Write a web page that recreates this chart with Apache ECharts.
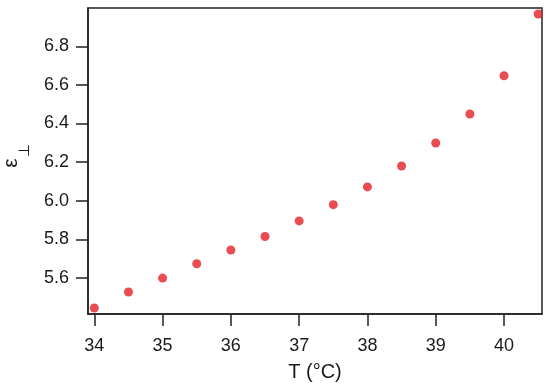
<!DOCTYPE html>
<html>
<head>
<meta charset="utf-8">
<script src="https://cdn.jsdelivr.net/npm/echarts@6/dist/echarts.min.js"></script>
<style>html,body{margin:0;padding:0;background:#fff}#c{width:550px;height:385px}</style>
</head>
<body>
<div id="c"></div>
<script>
var temperatures = [34, 34.5, 35, 35.5, 36, 36.5, 37, 37.5, 38, 38.5, 39, 39.5, 40, 40.5];
var epsPerp = [5.445, 5.528, 5.600, 5.674, 5.745, 5.815, 5.896, 5.980, 6.072, 6.180, 6.299, 6.449, 6.647, 6.967];
var xTicks = [34, 35, 36, 37, 38, 39, 40];
var yTicks = [5.6, 5.8, 6.0, 6.2, 6.4, 6.6, 6.8];

var data = temperatures.map(function (t, i) { return [t, epsPerp[i]]; });
var font = 'Liberation Sans, Arial, Helvetica, sans-serif';
var chart = echarts.init(document.getElementById('c'), null, {renderer: 'canvas'});
chart.setOption({
  animation: false,
  backgroundColor: '#fff',
  grid: {left: 88, right: 8, top: 8, bottom: 71, show: true, borderColor: '#222', borderWidth: 1.5, outerBoundsMode: 'none', containLabel: false},
  xAxis: {
    type: 'value', min: 33.908, max: 40.556,
    name: 'T (°C)', nameLocation: 'middle', nameGap: 48,
    nameTextStyle: {fontFamily: font, fontSize: 20, color: '#1a1a1a'},
    axisLine: {show: true, lineStyle: {color: '#222', width: 1.5}},
    axisTick: {show: true, inside: false, length: 12, customValues: xTicks, lineStyle: {color: '#222', width: 1.5}},
    axisLabel: {customValues: xTicks, margin: 23, fontFamily: font, fontSize: 18, color: '#1a1a1a', formatter: function (v) { return String(v); }},
    splitLine: {show: false}
  },
  yAxis: {
    type: 'value', min: 5.414, max: 6.998,
    name: '{e|ε}{s|⊥}', nameLocation: 'middle', nameGap: 56, nameRotate: 90,
    nameTextStyle: {fontFamily: font, color: '#1a1a1a', rich: {
      e: {fontFamily: font, fontSize: 21, color: '#1a1a1a', padding: [0, 0, 0, 10]},
      s: {fontFamily: font, fontSize: 15, color: '#1a1a1a', padding: [26, 0, 0, 1]}
    }},
    axisLine: {show: true, lineStyle: {color: '#222', width: 1.5}},
    axisTick: {show: true, inside: false, length: 12, customValues: yTicks, lineStyle: {color: '#222', width: 1.5}},
    axisLabel: {customValues: yTicks, margin: 19, fontFamily: font, fontSize: 18, color: '#1a1a1a', formatter: function (v) { return v.toFixed(1); }},
    splitLine: {show: false}
  },
  series: [{
    type: 'scatter', data: data, symbol: 'circle', symbolSize: 9,
    itemStyle: {color: '#e41f26'}
  }]
});
</script>
</body>
</html>
